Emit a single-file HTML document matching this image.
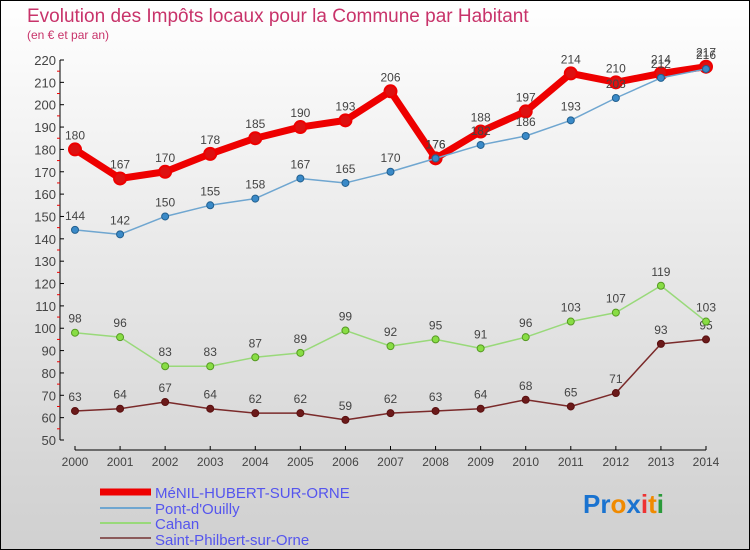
<!DOCTYPE html>
<html><head><meta charset="utf-8"><style>
body{margin:0;width:750px;height:550px;overflow:hidden;font-family:"Liberation Sans",sans-serif}
svg{display:block}
</style></head><body>
<svg id="c" width="750" height="550" xmlns="http://www.w3.org/2000/svg">
<defs><linearGradient id="bg" x1="0" y1="0" x2="0" y2="1"><stop offset="0" stop-color="#ffffff"/><stop offset="0.85" stop-color="#d6d6d6"/><stop offset="1" stop-color="#d0d0d0"/></linearGradient></defs>
<rect width="750" height="550" fill="url(#bg)"/>
<rect x="0.5" y="0.5" width="749" height="549" fill="none" stroke="#000"/>
<text x="27" y="22" font-size="19" fill="#c8336a">Evolution des Impôts locaux pour la Commune par Habitant</text>
<text x="27" y="39" font-size="12" fill="#c8336a">(en € et par an)</text>
<g id="axes"></g><g id="series"></g>
<g font-size="15" fill="#5555ee">
<line x1="100" y1="492" x2="151" y2="492" stroke="#ee0000" stroke-width="7"/>
<text x="155" y="498">MéNIL-HUBERT-SUR-ORNE</text>
<line x1="100" y1="508" x2="151" y2="508" stroke="#6fa6d0" stroke-width="2"/>
<text x="155" y="514">Pont-d'Ouilly</text>
<line x1="100" y1="523" x2="151" y2="523" stroke="#99d97a" stroke-width="2"/>
<text x="155" y="529">Cahan</text>
<line x1="100" y1="538" x2="151" y2="538" stroke="#8b5a5a" stroke-width="2"/>
<text x="155" y="545">Saint-Philbert-sur-Orne</text>
</g>
<g font-size="26" font-weight="bold">
<text x="583" y="513"><tspan fill="#1a73d0">Pr</tspan><tspan fill="#f08a00">o</tspan><tspan fill="#1a73d0">x</tspan><tspan fill="#e33">i</tspan><tspan fill="#f08a00">t</tspan><tspan fill="#2a9a3a">i</tspan></text>
</g>
</svg>
<script>
const years=[2000,2001,2002,2003,2004,2005,2006,2007,2008,2009,2010,2011,2012,2013,2014];
const menil=[180,167,170,178,185,190,193,206,176,188,197,214,210,214,217];
const pont=[144,142,150,155,158,167,165,170,176,182,186,193,203,212,216];
const cahan=[98,96,83,83,87,89,99,92,95,91,96,103,107,119,103];
const philbert=[63,64,67,64,62,62,59,62,63,64,68,65,71,93,95];
const yTicks=[50,60,70,80,90,100,110,120,130,140,150,160,170,180,190,200,210,220];
const NS="http://www.w3.org/2000/svg";
const x=i=>75+i*(706-75)/(years.length-1);
const y=v=>440-(v-50)*(380/170);
function mk(t,a,p){const e=document.createElementNS(NS,t);for(const k in a)e.setAttribute(k,a[k]);p.appendChild(e);return e;}
const ax=document.getElementById('axes');
let l=mk('line',{x1:60,y1:60,x2:60,y2:440,stroke:'#000'},ax);


l=mk('line',{x1:75,y1:450,x2:706,y2:450,stroke:'#000'},ax);


yTicks.forEach(v=>{
 mk('line',{x1:60,y1:y(v),x2:64,y2:y(v),stroke:'#000'},ax);
 if(v<220) mk('line',{x1:57,y1:y(v+5),x2:60,y2:y(v+5),stroke:'#e00'},ax);
 const t=mk('text',{x:56,y:y(v)+5,'font-size':13,fill:'#444','text-anchor':'end'},ax);
 t.textContent=v;
 
 
});
years.forEach((yr,i)=>{
 mk('line',{x1:x(i),y1:446,x2:x(i),y2:450,stroke:'#000'},ax);
 const t=mk('text',{x:x(i),y:466,'font-size':12,fill:'#444','text-anchor':'middle'},ax);
 t.textContent=yr;
 
 
});
const sg=document.getElementById('series');
function series(data,name,color,lw,r,fill,stroke){
 const g=mk('g',{},sg);
 
 
 const p=mk('polyline',{points:data.map((v,i)=>x(i)+','+y(v)).join(' '),fill:'none',stroke:color,'stroke-width':lw,'stroke-linejoin':'round'},g);
 
 
 data.forEach((v,i)=>{
  const c=mk('circle',{cx:x(i),cy:y(v),r:r,fill:fill,stroke:stroke,'stroke-width':lw>3?2:1},g);
  
  
  const t=mk('text',{x:x(i),y:y(v)-10,'font-size':12,fill:'#444','text-anchor':'middle'},g);
  t.textContent=v;
  
  
 });
}
series(philbert,'saint-philbert','#7a2a2a',1.5,3.5,'#6b1a1a','#5a1010');
series(cahan,'cahan','#99d97a',1.5,3.5,'#88dd44','#559922');
series(menil,'menil','#ee0000',7,6,'#dd1111','#ee0000');
series(pont,'pont','#6fa6d0',1.5,3.5,'#3a8ac8','#23608f');
</script>
</body></html>
